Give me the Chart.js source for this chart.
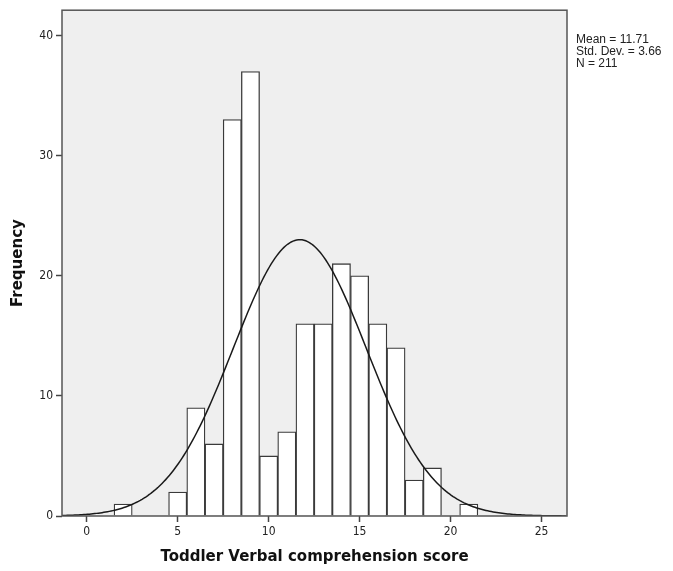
<!DOCTYPE html>
<html>
<head>
<meta charset="utf-8">
<script src="https://cdn.jsdelivr.net/npm/chart.js@4"></script>
<style>
  html, body { margin: 0; padding: 0; background: #fff; }
  #wrap { width: 673px; height: 571px; }
</style>
</head>
<body>
<div id="wrap"><canvas id="histChart" width="673" height="571"></canvas></div>
<script>
// score bins (bin width 1) and their frequencies
const scores = [2, 5, 6, 7, 8, 9, 10, 11, 12, 13, 14, 15, 16, 17, 18, 19, 21];
const counts = [1, 2, 9, 6, 33, 37, 5, 7, 16, 16, 21, 20, 16, 14, 3, 4, 1];
const yTicks = [0, 10, 20, 30, 40];
const xTicks = [0, 5, 10, 15, 20, 25];

// summary stats shown beside the plot
const mean = 11.71;
const stdDev = 3.66;
const n = 211;
const statLines = ['Mean = 11.71', 'Std. Dev. = 3.66', 'N = 211'];

const xMin = -1.36, xMax = 26.4;
const yMax = 42.1;

// fitted normal curve, scaled to counts per unit bin
const curve = [];
for (let x = xMin; x <= xMax + 0.001; x += 0.1) {
    const z = (x - mean) / stdDev;
    curve.push({ x: x, y: n / (stdDev * Math.sqrt(2 * Math.PI)) * Math.exp(-0.5 * z * z) });
}

const frame = {
    id: 'frame',
    beforeDatasetsDraw(chart) {
        const { ctx, chartArea: a } = chart;
        ctx.save();
        ctx.fillStyle = '#efefef';
        ctx.fillRect(a.left, a.top, a.right - a.left, a.bottom - a.top);
        ctx.restore();
    },
    afterDraw(chart) {
        const { ctx, chartArea: a } = chart;
        ctx.save();
        ctx.strokeStyle = '#555';
        ctx.lineWidth = 1.5;
        ctx.strokeRect(a.left, a.top, a.right - a.left, a.bottom - a.top);
        ctx.fillStyle = '#222';
        ctx.font = '12px "Liberation Sans", Arial, sans-serif';
        ctx.textBaseline = 'top';
        statLines.forEach((t, i) => ctx.fillText(t, a.right + 9, 34 + i * 12));
        ctx.restore();
    }
};

const tickFont = { family: '"DejaVu Sans Condensed", "Liberation Sans Narrow", sans-serif', size: 12 };
const titleFont = { family: '"DejaVu Sans", sans-serif', size: 15, weight: 'bold' };

const ctx = document.getElementById('histChart').getContext('2d');
const histChart = new Chart(ctx, {
    type: 'bar',
    data: {
        datasets: [{
            type: 'line',
            data: curve,
            borderColor: '#1a1a1a',
            borderWidth: 1.5,
            pointRadius: 0,
            tension: 0,
            fill: false,
            order: 0
        }, {
            data: scores.map((s, i) => ({ x: s, y: counts[i] })),
            backgroundColor: '#fff',
            borderColor: '#3a3a3a',
            borderWidth: 1.3,
            barPercentage: 1,
            categoryPercentage: 1,
            order: 1
        }]
    },
    options: {
        responsive: false,
        animation: false,
        layout: { padding: { top: 10, right: 106, left: 0, bottom: 0 } },
        plugins: { legend: { display: false }, tooltip: { enabled: false } },
        scales: {
            x: {
                type: 'linear',
                offset: false,
                min: xMin,
                max: xMax,
                afterFit: s => { s.height = 55; },
                afterBuildTicks: s => { s.ticks = xTicks.map(v => ({ value: v })); },
                grid: { offset: false, drawOnChartArea: false, tickLength: 6, tickWidth: 1.5, tickColor: '#444' },
                border: { display: false },
                ticks: { color: '#222', padding: 3, font: tickFont },
                title: {
                    display: true,
                    text: 'Toddler Verbal comprehension score',
                    color: '#111',
                    padding: { top: 0, bottom: 5 },
                    font: titleFont
                }
            },
            y: {
                min: 0,
                max: yMax,
                afterFit: s => { s.width = 62; },
                afterBuildTicks: s => { s.ticks = yTicks.map(v => ({ value: v })); },
                grid: { drawOnChartArea: false, tickLength: 6, tickWidth: 1.5, tickColor: '#444' },
                border: { display: false },
                ticks: { color: '#222', padding: 3, font: tickFont },
                title: {
                    display: true,
                    text: 'Frequency',
                    color: '#111',
                    padding: { top: 9, bottom: 0 },
                    font: titleFont
                }
            }
        }
    },
    plugins: [frame]
});
</script>
</body>
</html>
